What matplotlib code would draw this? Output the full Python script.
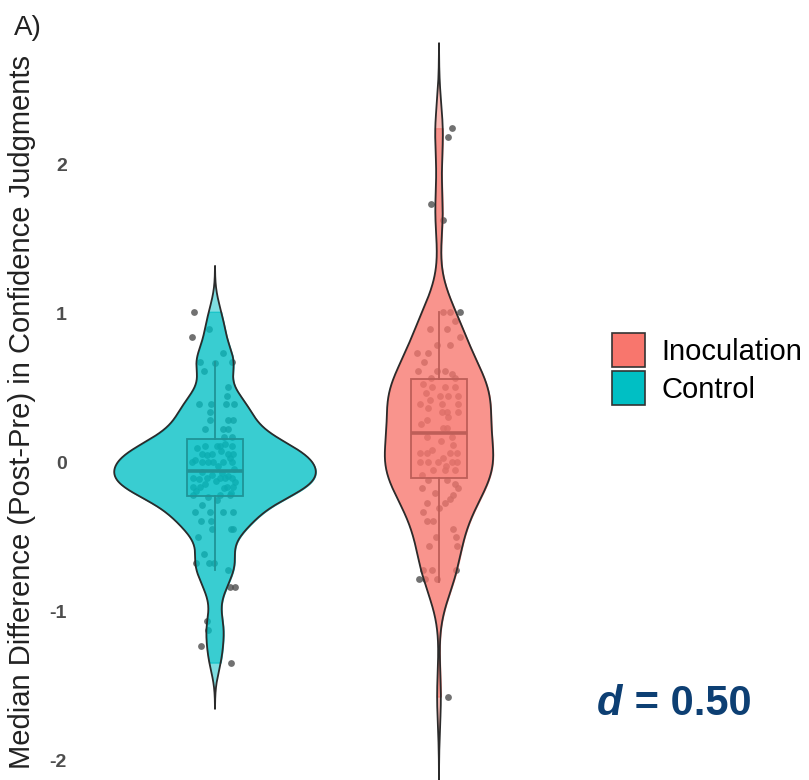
import numpy as np
import matplotlib
matplotlib.use("Agg")
import matplotlib.pyplot as plt
from matplotlib.patches import Patch
from matplotlib.colors import to_rgba

# ---------------- data ----------------
groups = ["Control", "Inoculation"]
legend_order = ["Inoculation", "Control"]
fill_colors = {"Control": "#00BFC4", "Inoculation": "#F8766D"}
box_edges = {"Control": "#1F9497", "Inoculation": "#BE5E58"}

control_y = [1.015, 0.848, 0.90, 0.736, 0.68, 0.673, 0.676, 0.62, 0.512, 0.452,
             0.396, 0.396, 0.396, 0.396, 0.34, 0.289, 0.285, 0.285, 0.228, 0.228,
             0.23, 0.177, 0.177,
             0.116, 0.116, 0.116, 0.116,
             0.06, 0.06, 0.06, 0.06,
             0.009, 0.009, 0.009, 0.009, 0.009, 0.009,
             -0.10, -0.10, -0.10, -0.10, -0.10,
             -0.16, -0.16, -0.16, -0.16,
             -0.215, -0.215, -0.215,
             -0.33, -0.33, -0.33, -0.33,
             -0.39, -0.39,
             -0.443, -0.443, -0.443,
             -0.50, -0.61,
             -0.67, -0.67, -0.67,
             -0.72, -0.835, -0.835,
             -1.06, -1.12, -1.23, -1.34,
             0.13, 0.10, 0.08, 0.05, 0.03, 0.02, -0.02, -0.04, -0.06, -0.07,
             -0.08, -0.09, -0.11, -0.12, -0.13, -0.14, -0.17, -0.19, -0.20, -0.23,
             -0.25, -0.28]
control_jitter = [-0.092, -0.101, -0.027, 0.034, -0.067, 0.0, 0.077, -0.049, 0.057, 0.052,
                  -0.071, -0.019, 0.049, 0.086, -0.022, -0.022, 0.058, 0.080, -0.045, 0.036,
                  0.058, 0.076, 0.040,
                  -0.045, 0.008, 0.022, 0.075,
                  -0.059, -0.015, 0.059, 0.082,
                  -0.104, -0.059, -0.030, -0.008, 0.037, 0.075,
                  -0.097, -0.037, 0.022, 0.045, 0.075,
                  -0.097, -0.067, 0.052, 0.082,
                  -0.097, 0.022, 0.067,
                  -0.089, -0.022, 0.034, 0.082,
                  -0.064, -0.018,
                  -0.015, 0.071, 0.082,
                  -0.075, -0.048,
                  -0.085, -0.025, -0.003,
                  0.059, 0.067, 0.089,
                  -0.037, -0.030, -0.064, 0.070,
                  0.045, -0.080, 0.027, -0.035, 0.065, -0.090, 0.013, 0.085, -0.060, 0.030,
                  -0.015, 0.060, -0.070, 0.005, 0.090, -0.045, 0.040, -0.085, 0.070, -0.030,
                  0.010, -0.060]

inoculation_y = [2.246, 2.19, 1.74, 1.63,
                 1.01, 1.01, 1.01, 0.955, 0.897, 0.897, 0.848, 0.79, 0.79, 0.74, 0.74,
                 0.62, 0.62, 0.62, 0.568, 0.568, 0.508, 0.508, 0.508,
                 0.452, 0.452, 0.452, 0.396, 0.396, 0.396, 0.345, 0.345, 0.345,
                 0.289, 0.233, 0.233, 0.177, 0.177, 0.121,
                 0.065, 0.065, 0.065, 0.065,
                 0.005, 0.005, 0.005, 0.005, 0.005,
                 -0.05, -0.05, -0.05, -0.114, -0.114, -0.166, -0.166, -0.215,
                 -0.27, -0.27, -0.33, -0.39, -0.39, -0.445, -0.50, -0.50,
                 -0.557, -0.557, -0.72, -0.72, -0.72, -0.78, -0.78, -0.78,
                 -1.568,
                 0.53, 0.47, 0.42, 0.37, 0.31, 0.26, 0.15, 0.09, 0.03, -0.02,
                 -0.08, -0.14, -0.20, -0.24, -0.30, 0.60, 0.68]
inoculation_jitter = [0.057, 0.039, -0.037, 0.019,
                      0.019, 0.049, 0.094, 0.071, -0.040, 0.034, 0.094, -0.010, 0.049, -0.100, -0.048,
                      -0.092, -0.010, 0.027, -0.036, 0.071, -0.033, 0.027, 0.071,
                      0.004, 0.042, 0.086, -0.085, 0.012, 0.086, 0.012, 0.034, 0.086,
                      -0.055, 0.019, 0.034, -0.055, 0.057, 0.064,
                      -0.085, -0.055, 0.049, 0.079,
                      -0.085, -0.048, -0.003, 0.057, 0.079,
                      -0.027, 0.027, 0.071, -0.048, 0.034, -0.077, 0.086, 0.064,
                      -0.055, 0.027, -0.073, -0.052, -0.025, 0.061, -0.013, 0.076,
                      -0.043, 0.082, -0.070, -0.033, 0.076, -0.088, -0.063, -0.010,
                      0.039,
                      -0.070, -0.060, -0.040, -0.050, 0.040, -0.080, 0.010, -0.030, 0.020, 0.030,
                      -0.075, 0.070, -0.020, 0.050, 0.000, 0.060, -0.065]

# box statistics: lower whisker, Q1, median, Q3, upper whisker
control_box = [-0.72, -0.22, -0.054, 0.16, 0.68]
inoculation_box = [-0.80, -0.10, 0.20, 0.564, 1.01]

y_ticks = [-2, -1, 0, 1, 2]
y_label = "Median Difference (Post-Pre) in Confidence Judgments"
panel_label = "A)"
effect_symbol = "d"
effect_value = " = 0.50"

values = {"Control": np.array(control_y), "Inoculation": np.array(inoculation_y)}
jitters = {"Control": np.array(control_jitter), "Inoculation": np.array(inoculation_jitter)}
boxes = {"Control": control_box, "Inoculation": inoculation_box}

# ---------------- helpers ----------------
def bw_nrd0(v):
    sd = np.std(v, ddof=1)
    q75, q25 = np.percentile(v, [75, 25])
    return 0.9 * min(sd, (q75 - q25) / 1.34) * len(v) ** -0.2

def kde(v, grid, bw):
    z = (grid[:, None] - v[None, :]) / bw
    return np.exp(-0.5 * z ** 2).sum(axis=1) / (len(v) * bw * np.sqrt(2 * np.pi))

# ---------------- figure ----------------
plt.rcParams['font.family'] = ['Liberation Sans', 'DejaVu Sans']
W, H = 809, 780
fig = plt.figure(figsize=(W / 100, H / 100), dpi=100)
ax = fig.add_axes([80.6 / W, 0.0, 492.8 / W, 1.0])
ax.set_xlim(0.4, 2.6)
ax.set_ylim(-2.128, 3.107)

dens = {}
for g in groups:
    v = values[g]
    bw = bw_nrd0(v)
    full = np.linspace(v.min() - 3 * bw, v.max() + 3 * bw, 512)
    trim = np.linspace(v.min(), v.max(), 512)
    dens[g] = (full, kde(v, full, bw), trim, kde(v, trim, bw))
max_d = max(d[1].max() for d in dens.values())

for i, g in enumerate(groups):
    pos = i + 1
    col = fill_colors[g]
    full, df, trim, dt = dens[g]
    hf = 0.45 * df / max_d
    ht = 0.45 * dt / max_d
    ax.scatter(pos + jitters[g], values[g], s=24, color="#4D4D4D", alpha=0.8,
               linewidths=0, zorder=1)
    ax.fill_betweenx(full, pos - hf, pos + hf, facecolor=to_rgba(col, 0.5),
                     edgecolor="none", zorder=2)
    ax.fill_betweenx(trim, pos - ht, pos + ht, facecolor=to_rgba(col, 0.55),
                     edgecolor=to_rgba(col, 0.8), linewidth=0.8, zorder=3)
    xs = np.concatenate([pos - hf, (pos + hf)[::-1], [pos - hf[0]]])
    ys = np.concatenate([full, full[::-1], [full[0]]])
    ax.plot(xs, ys, color="#2B2B2B", linewidth=1.3, zorder=3.5,
            solid_joinstyle="round")
    lo, q1, med, q3, hi = boxes[g]
    ax.bxp([dict(whislo=lo, q1=q1, med=med, q3=q3, whishi=hi, fliers=[])],
           positions=[pos], widths=0.25, patch_artist=True, showcaps=False,
           showfliers=False, zorder=4,
           boxprops=dict(facecolor=to_rgba(col, 0.3), edgecolor=box_edges[g], linewidth=1.3),
           whiskerprops=dict(color=box_edges[g], linewidth=1.3),
           medianprops=dict(color=box_edges[g], linewidth=2.6))

for s in ax.spines.values():
    s.set_visible(False)
ax.set_xticks([])
ax.set_yticks(y_ticks)
ax.set_yticklabels([str(t) for t in y_ticks])
ax.tick_params(axis="y", length=0, pad=9.8, labelsize=14, labelcolor="#4D4D4D")
for lab in ax.get_yticklabels():
    lab.set_fontweight("bold")
ax.patch.set_alpha(0)

fig.text(22 / W, 1 - 412 / H, y_label, rotation=90, ha="center", va="center",
         fontsize=21, color="#222222")
fig.text(14 / W, 1 - 35 / H, panel_label, ha="left", va="baseline", fontsize=20,
         color="#222222")

fig.text(597 / W, 1 - 715 / H, effect_symbol, ha="left", va="baseline", fontsize=30,
         fontweight="bold", fontstyle="italic", color="#0D3F73")
fig.text(752 / W, 1 - 715 / H, effect_value, ha="right", va="baseline", fontsize=30,
         fontweight="bold", color="#0D3F73")

handles = [Patch(facecolor=fill_colors[g], edgecolor="#333333", linewidth=1.2)
           for g in legend_order]
fig.legend(handles, legend_order, loc="upper left",
           bbox_to_anchor=(612 / W, 1 - 333 / H), frameon=False, fontsize=21,
           handlelength=1.13, handleheight=1.4, handletextpad=0.58,
           labelspacing=0.15, borderpad=0, borderaxespad=0)

fig.savefig("out.png", dpi=100)
